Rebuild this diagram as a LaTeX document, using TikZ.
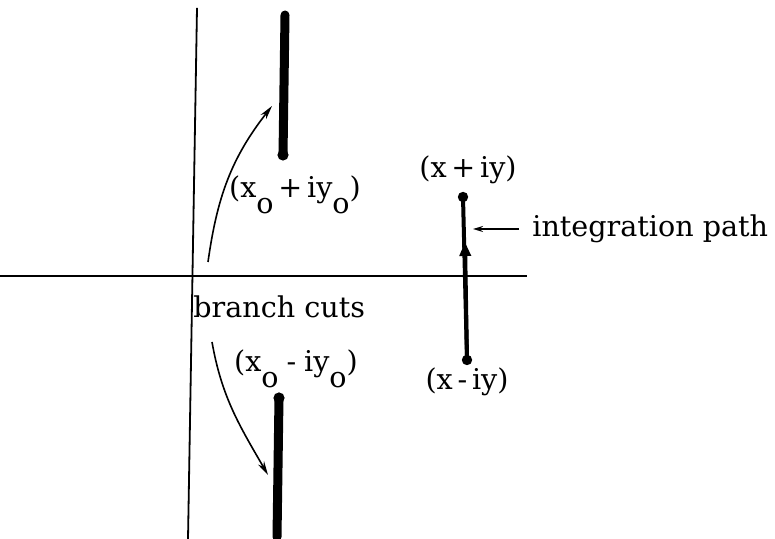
\documentclass[tikz,border=0pt]{standalone}
\usepackage{fontspec}
\setmainfont{DejaVu Serif}
\usepackage{tikz}
\usetikzlibrary{arrows.meta}

\newcommand\lowo{\raisebox{-1.05ex}{o}}

\begin{document}
\begin{tikzpicture}[x=.5pt,y=.5pt,
  lbl/.style={inner sep=0pt,font=\fontsize{14.3}{16}\selectfont},
  cut/.style={line width=4.5pt,line cap=round},
  swing/.style={line width=.8pt,-{Stealth[length=7pt,width=3.5pt]}}]
 \useasboundingbox (0,0) rectangle (775,539);
 % axes
 \draw[line width=.9pt] (197,531) -- (188,0);
 \draw[line width=.9pt] (0,263) -- (527,263);
 % branch cuts
 \coordinate (cpt) at (285,524);
 \coordinate (cpb) at (283,384);
 \coordinate (cmt) at (279,141);
 \coordinate (cmb) at (277,2);
 \draw[cut] (cpt) -- (cpb);
 \fill (cpb) circle (2.8pt);
 \draw[cut] (cmt) -- (cmb);
 \fill (cmt) circle (2.8pt);
 \node[lbl] (lplus) at (295,344) {(x\lowo\,+\,iy\lowo)};
 \node[lbl] (lminus) at (296,170) {(x\lowo\;-\;iy\lowo)};
 \node[lbl,anchor=west] (bc) at (193,232) {branch cuts};
 % arrows to the cuts
 \coordinate (ua) at (208,277);
 \coordinate (ub) at (272,433);
 \coordinate (da) at (212,197);
 \coordinate (db) at (268,64);
 \draw[swing] (ua) to[out=82,in=232] (ub);
 \draw[swing] (da) to[out=-80,in=120] (db);
 % integration path
 \coordinate (pt) at (463,342);
 \coordinate (pm) at (465,297);
 \coordinate (pb) at (467,179);
 \draw[line width=2pt] (pb) -- (pt);
 \draw[line width=2pt,-{Triangle[length=7pt,width=5.5pt]}] (pb) -- (pm);
 \fill (pt) circle (2.6pt);
 \fill (pb) circle (2.6pt);
 \node[lbl] (top) at (468,369) {(x\,+\,iy)};
 \node[lbl] (bot) at (467,157) {(x\,-\,iy)};
 \node[lbl,anchor=west] (ip) at (532,310) {integration path};
 \coordinate (ipa) at (473,310);
 \draw[line width=.8pt,-{Stealth[length=5pt,width=3pt]}] ([xshift=-6.5pt]ip.west) -- (ipa);
\end{tikzpicture}
\end{document}
